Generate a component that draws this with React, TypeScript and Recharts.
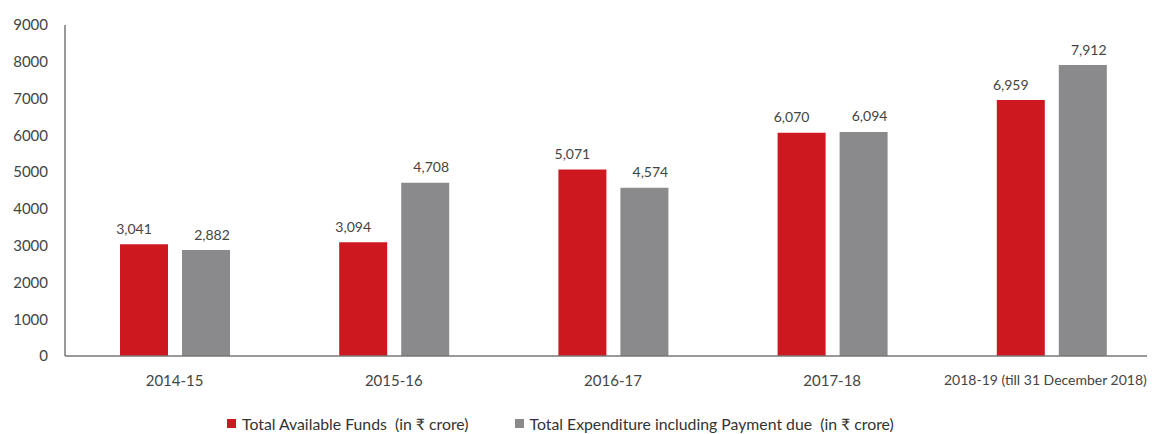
import React from "react";
import { BarChart, Bar, XAxis, YAxis, Legend } from "recharts";

const categories = ["2014-15", "2015-16", "2016-17", "2017-18", "2018-19 (till 31 December 2018)"];
const availableFunds = [3041, 3094, 5071, 6070, 6959];
const expenditure = [2882, 4708, 4574, 6094, 7912];
const yTicks = [0, 1000, 2000, 3000, 4000, 5000, 6000, 7000, 8000, 9000];
const seriesNames = ["Total Available Funds  (in \u20B9 crore)", "Total Expenditure including Payment due  (in \u20B9 crore)"];

const RED = "#CD1820";
const GRAY = "#8A8A8C";
const FONT = "Lato, 'Open Sans', sans-serif";

const data = categories.map((c, i) => ({ name: c, funds: availableFunds[i], exp: expenditure[i] }));

const fmt = (v: number) => v.toLocaleString("en-US");

const makeLabel = (dx: number) => (props: any) => {
  const { x, y, width, value } = props;
  return (
    <text x={x + width / 2 + dx} y={y - 16} textAnchor="middle" dominantBaseline="central"
      fill="#444" fontSize={14} fontFamily={FONT}>
      {fmt(value)}
    </text>
  );
};

const XTick = (props: any) => {
  const { x, y, payload } = props;
  const long = String(payload.value).length > 10;
  return (
    <text x={x + (long ? -6 : 0)} y={y} dy="0.71em" textAnchor="middle" fill="#444"
      fontSize={long ? 14 : 15} fontFamily={FONT}>
      {payload.value}
    </text>
  );
};

const LegendContent = () => (
  <div style={{ display: "flex", alignItems: "center", height: 20, paddingLeft: 219, fontFamily: FONT, fontSize: 15.8, color: "#333", whiteSpace: "nowrap" }}>
    <span style={{ display: "inline-block", width: 9, height: 9, background: RED, marginRight: 6 }} />
    <span style={{ whiteSpace: "pre" }}>{seriesNames[0]}</span>
    <span style={{ display: "inline-block", width: 9, height: 9, background: GRAY, marginLeft: 46, marginRight: 6 }} />
    <span style={{ whiteSpace: "pre" }}>{seriesNames[1]}</span>
  </div>
);

export default function App() {
  return (
    <div style={{ width: 1147, height: 426, overflow: "hidden", background: "#fff" }}>
      <BarChart width={1153} height={426} data={data} margin={{ top: 17, right: 0, left: 0, bottom: 28 }}
        barGap={14} barSize={48}>
        <XAxis dataKey="name" height={30} axisLine={{ stroke: "#777", strokeWidth: 1.5 }} tickLine={false} tickSize={6} tickMargin={13}
          tick={<XTick />} interval={0} />
        <YAxis width={57} domain={[0, 9000]} ticks={yTicks} axisLine={{ stroke: "#777", strokeWidth: 1.5 }} tickLine={false}
          tickSize={6} tickMargin={11} tick={{ fill: "#444", fontSize: 15, fontFamily: FONT }} />
        <Legend content={<LegendContent />} wrapperStyle={{ top: 405, left: 0, width: 1153, height: 20 }} />
        <Bar dataKey="funds" name={seriesNames[0]} fill={RED} isAnimationActive={false} label={makeLabel(-10)} />
        <Bar dataKey="exp" name={seriesNames[1]} fill={GRAY} isAnimationActive={false} label={makeLabel(6)} />
      </BarChart>
    </div>
  );
}
